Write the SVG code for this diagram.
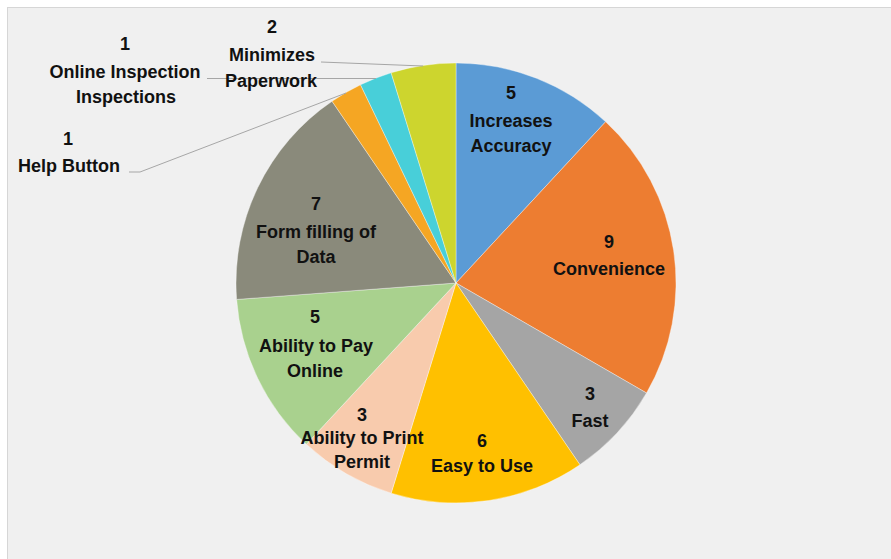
<svg xmlns="http://www.w3.org/2000/svg" width="891" height="559" viewBox="0 0 891 559">
  <style>
    .lbl { font-family: "Liberation Sans", Arial, sans-serif; font-weight: bold; font-size: 18px; fill: #111111; text-anchor: middle; }
    .slice { stroke: #ffffff; stroke-width: 0.6; stroke-opacity: 0.6; }
    .leader { fill: none; stroke: #a6a6a6; stroke-width: 1; }
  </style>
  <rect x="0" y="0" width="891" height="559" fill="#ffffff"/>
  <rect x="7.5" y="7.5" width="890" height="560" fill="#f0f0f0" stroke="#d6d6d6" stroke-width="1"/>

  <g id="pie">
    <g id="slice-increases-accuracy"><path class="slice" fill="#5b9bd5" d="M456,283 L456,63 A220,220 0 0 1 605.64,121.72 Z"/></g>
    <g id="slice-convenience"><path class="slice" fill="#ed7d31" d="M456,283 L605.64,121.72 A220,220 0 0 1 646.53,393 Z"/></g>
    <g id="slice-fast"><path class="slice" fill="#a5a5a5" d="M456,283 L646.53,393 A220,220 0 0 1 579.93,464.76 Z"/></g>
    <g id="slice-easy-to-use"><path class="slice" fill="#ffc000" d="M456,283 L579.93,464.76 A220,220 0 0 1 391.15,493.23 Z"/></g>
    <g id="slice-print-permit"><path class="slice" fill="#f8cbad" d="M456,283 L391.15,493.23 A220,220 0 0 1 306.36,444.28 Z"/></g>
    <g id="slice-pay-online"><path class="slice" fill="#a9d18e" d="M456,283 L306.36,444.28 A220,220 0 0 1 236.62,299.44 Z"/></g>
    <g id="slice-form-filling"><path class="slice" fill="#8a8a7b" d="M456,283 L236.62,299.44 A220,220 0 0 1 332.07,101.24 Z"/></g>
    <g id="slice-help-button"><path class="slice" fill="#f5a623" d="M456,283 L332.07,101.24 A220,220 0 0 1 360.54,84.78 Z"/></g>
    <g id="slice-online-inspection"><path class="slice" fill="#48cfd9" d="M456,283 L360.54,84.78 A220,220 0 0 1 391.15,72.77 Z"/></g>
    <g id="slice-minimizes-paperwork"><path class="slice" fill="#cdd52e" d="M456,283 L391.15,72.77 A220,220 0 0 1 456,63 Z"/></g>
  </g>

  <g id="connectors">
    <polyline class="leader" points="321,62 423,66"/>
    <polyline class="leader" points="207,78.5 376,78.5"/>
    <polyline class="leader" points="129,172 140,172 346,93"/>
  </g>

  <g id="labels">
    <g id="label-increases-accuracy">
      <text class="lbl" x="511" y="99">5</text>
      <text class="lbl" x="511" y="127">Increases</text>
      <text class="lbl" x="511" y="152">Accuracy</text>
    </g>
    <g id="label-convenience">
      <text class="lbl" x="609" y="248">9</text>
      <text class="lbl" x="609" y="275">Convenience</text>
    </g>
    <g id="label-fast">
      <text class="lbl" x="590" y="400">3</text>
      <text class="lbl" x="590" y="427">Fast</text>
    </g>
    <g id="label-easy-to-use">
      <text class="lbl" x="482" y="447">6</text>
      <text class="lbl" x="482" y="472">Easy to Use</text>
    </g>
    <g id="label-print-permit">
      <text class="lbl" x="362" y="421">3</text>
      <text class="lbl" x="362" y="444">Ability to Print</text>
      <text class="lbl" x="362" y="468">Permit</text>
    </g>
    <g id="label-pay-online">
      <text class="lbl" x="315" y="323">5</text>
      <text class="lbl" x="316" y="352">Ability to Pay</text>
      <text class="lbl" x="315" y="377">Online</text>
    </g>
    <g id="label-form-filling">
      <text class="lbl" x="316" y="210">7</text>
      <text class="lbl" x="316" y="238">Form filling of</text>
      <text class="lbl" x="316" y="263">Data</text>
    </g>
    <g id="label-online-inspection">
      <text class="lbl" x="125" y="50">1</text>
      <text class="lbl" x="125" y="78">Online Inspection</text>
      <text class="lbl" x="126" y="103">Inspections</text>
    </g>
    <g id="label-minimizes-paperwork">
      <text class="lbl" x="272" y="33">2</text>
      <text class="lbl" x="272" y="61">Minimizes</text>
      <text class="lbl" x="271" y="87">Paperwork</text>
    </g>
    <g id="label-help-button">
      <text class="lbl" x="68" y="145">1</text>
      <text class="lbl" x="69" y="172">Help Button</text>
    </g>
  </g>
</svg>
